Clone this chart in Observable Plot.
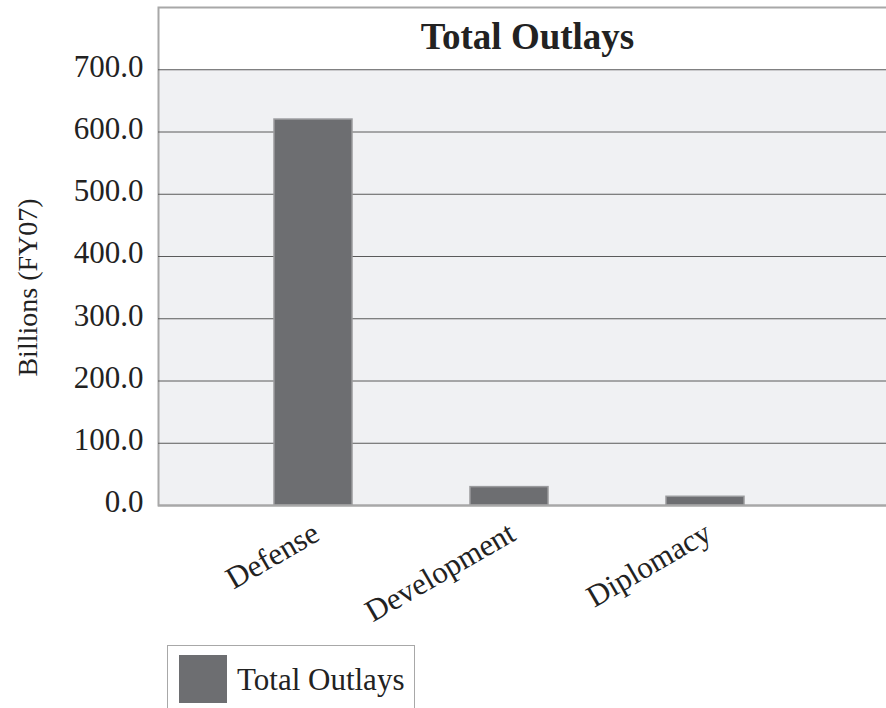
<!DOCTYPE html>
<html>
<head>
<meta charset="utf-8">
<script src="https://cdn.jsdelivr.net/npm/d3@7"></script>
<script src="https://cdn.jsdelivr.net/npm/@observablehq/plot@0.6"></script>
<style>
  html, body { margin: 0; padding: 0; background: #fff; }
  body { width: 886px; height: 708px; overflow: hidden; font-family: "Liberation Serif", serif; }
  #legend { margin-left: 167px; margin-top: 25px; width: 248px; height: 80px; border: 1.5px solid #a8a8a8; box-sizing: border-box; position: relative; }
  #legend .sw { position: absolute; left: 11px; top: 9px; width: 48px; height: 48px; background: #6d6e71; }
  #legend .lb { position: absolute; left: 69px; top: 10px; font-size: 31px; line-height: 48px; color: #222; }
</style>
</head>
<body>
<div id="chart"></div>
<div id="legend"><div class="sw"></div><div class="lb"></div></div>
<script>
const chartTitle = "Total Outlays";
const categories = ["Defense", "Development", "Diplomacy"];
const outlays = [620, 29.5, 14];
const yTicks = [0, 100, 200, 300, 400, 500, 600, 700];
const yAxisLabel = "Billions (FY07)";
const seriesName = "Total Outlays";

const data = categories.map((c, i) => ({category: c, value: outlays[i]}));
const valueTop = d3.max(yTicks);

const chart = Plot.plot({
  width: 886,
  height: 620,
  marginLeft: 158,
  marginRight: -10,
  marginTop: 7,
  marginBottom: 115,
  style: {fontFamily: "Liberation Serif, serif", background: "transparent", overflow: "visible"},
  x: {domain: categories, paddingInner: 0.6, paddingOuter: 0.678, align: 0.4317},
  y: {domain: [0, 800]},
  marks: [
    Plot.rect([valueTop], {y1: 0, y2: d => d, fill: "#f0f1f3"}),
    Plot.frame({stroke: "#a8a8a8", strokeWidth: 2}),
    Plot.ruleY(yTicks.filter(d => d > 0), {stroke: "#5a5a5a", strokeWidth: 1}),
    Plot.barY(data, {x: "category", y: "value", fill: "#6d6e71", stroke: "#9a9b9d", strokeWidth: 1.5}),
    Plot.ruleY([0], {stroke: "#a8a8a8", strokeWidth: 2}),
    Plot.axisY(yTicks, {tickSize: 0, tickPadding: 15, tickFormat: d => d.toFixed(1), fontSize: 31, label: null, color: "#222", dy: -3}),
    Plot.axisX({tickSize: 0, tickPadding: 25, tickRotate: -30, fontSize: 31, label: null, color: "#222", dx: 3}),
    Plot.text([chartTitle], {frameAnchor: "top", lineAnchor: "top", dy: 15, fontSize: 37, fontWeight: "bold", fill: "#222"}),
    Plot.text([yAxisLabel], {frameAnchor: "left", textAnchor: "middle", rotate: -90, dx: -130, dy: 31, fontSize: 28, fill: "#222"})
  ]
});
document.getElementById("chart").appendChild(chart);
document.querySelector("#legend .lb").textContent = seriesName;
</script>
</body>
</html>
